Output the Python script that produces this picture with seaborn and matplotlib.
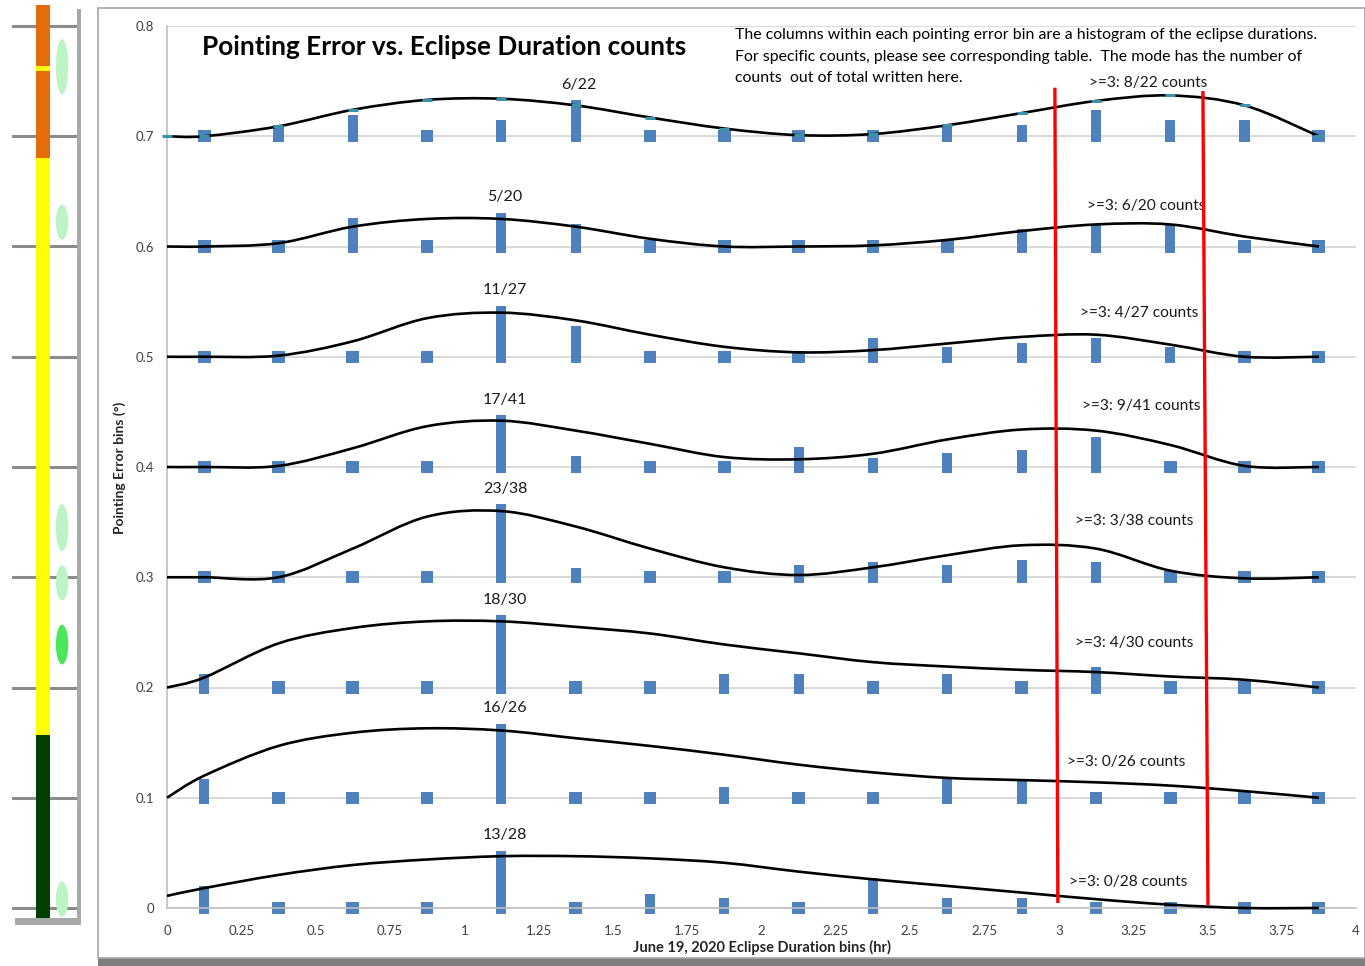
import numpy as np
import matplotlib
matplotlib.use("Agg")
import matplotlib.pyplot as plt
import seaborn as sns
from matplotlib.path import Path
from matplotlib.patches import PathPatch, Ellipse, Rectangle

# --- data ---
bin_centers = [0.125, 0.375, 0.625, 0.875, 1.125, 1.375, 1.625, 1.875,
               2.125, 2.375, 2.625, 2.875, 3.125, 3.375, 3.625, 3.875]
curve_x = [0.0] + bin_centers
error_bins = [0.7, 0.6, 0.5, 0.4, 0.3, 0.2, 0.1, 0.0]
x_ticks = [0, 0.25, 0.5, 0.75, 1, 1.25, 1.5, 1.75, 2, 2.25, 2.5, 2.75, 3, 3.25, 3.5, 3.75, 4]
y_ticks = [0, 0.1, 0.2, 0.3, 0.4, 0.5, 0.6, 0.7, 0.8]

counts_07 = [0, 1, 3, 0, 2, 6, 0, 0, 0, 0, 1, 1, 4, 2, 2, 0]
counts_06 = [0, 0, 4, 0, 5, 3, 0, 0, 0, 0, 0, 2, 3, 3, 0, 0]
counts_05 = [0, 0, 0, 0, 11, 6, 0, 0, 0, 3, 1, 2, 3, 1, 0, 0]
counts_04 = [0, 0, 0, 0, 17, 2, 0, 0, 5, 1, 3, 4, 9, 0, 0, 0]
counts_03 = [0, 0, 0, 0, 23, 1, 0, 0, 2, 3, 2, 4, 3, 0, 0, 0]
counts_02 = [2, 0, 0, 0, 18, 0, 0, 2, 2, 0, 2, 0, 4, 0, 0, 0]
counts_01 = [3, 0, 0, 0, 16, 0, 0, 1, 0, 0, 3, 3, 0, 0, 0, 0]
counts_00 = [4, 0, 0, 0, 13, 0, 2, 1, 0, 6, 1, 1, 0, 0, 0, 0]

# smoothed trend lines (one value per point in curve_x)
curve_07 = [0.700, 0.700, 0.709, 0.724, 0.733, 0.734, 0.728, 0.717, 0.707,
            0.701, 0.702, 0.710, 0.721, 0.732, 0.737, 0.728, 0.700]
curve_06 = [0.600, 0.600, 0.603, 0.618, 0.625, 0.625, 0.618, 0.607, 0.600,
            0.600, 0.601, 0.606, 0.614, 0.620, 0.620, 0.609, 0.600]
curve_05 = [0.500, 0.500, 0.501, 0.514, 0.535, 0.540, 0.533, 0.520, 0.509,
            0.504, 0.506, 0.512, 0.518, 0.520, 0.511, 0.500, 0.500]
curve_04 = [0.400, 0.400, 0.401, 0.417, 0.437, 0.442, 0.433, 0.421, 0.409,
            0.407, 0.412, 0.425, 0.434, 0.433, 0.420, 0.401, 0.400]
curve_03 = [0.300, 0.300, 0.300, 0.326, 0.355, 0.360, 0.346, 0.326, 0.309,
            0.302, 0.309, 0.320, 0.329, 0.326, 0.306, 0.299, 0.300]
curve_02 = [0.200, 0.209, 0.240, 0.254, 0.260, 0.260, 0.255, 0.249, 0.239,
            0.231, 0.223, 0.219, 0.216, 0.214, 0.210, 0.207, 0.200]
curve_01 = [0.100, 0.120, 0.147, 0.159, 0.163, 0.161, 0.154, 0.147, 0.139,
            0.130, 0.123, 0.118, 0.116, 0.114, 0.111, 0.106, 0.100]
curve_00 = [0.011, 0.018, 0.030, 0.039, 0.044, 0.047, 0.047, 0.045, 0.041,
            0.033, 0.026, 0.020, 0.014, 0.008, 0.003, 0.000, 0.000]

counts = [counts_07, counts_06, counts_05, counts_04, counts_03, counts_02, counts_01, counts_00]
curves = [curve_07, curve_06, curve_05, curve_04, curve_03, curve_02, curve_01, curve_00]

# red marker lines (hand drawn, slightly slanted)
red_lines = [((2.987, 2.997), (0.744, 0.0045)), ((3.485, 3.502), (0.741, 0.0027))]

# where the ">=3" notes sit
hi_label_pos = [(3.30, 0.748), (3.294, 0.637), (3.27, 0.540), (3.277, 0.455),
                (3.253, 0.351), (3.253, 0.240), (3.226, 0.132), (3.233, 0.024)]

note_lines = ["The columns within each pointing error bin are a histogram of the eclipse durations.",
              "For specific counts, please see corresponding table.  The mode has the number of",
              "counts  out of total written here."]

# left colour strip
strip_segments = [(0.770, 0.157, "#FFFF00"), (0.819, 0.7635, "#E46C0A"),
                  (0.7595, 0.680, "#E46C0A"), (0.157, -0.009, "#033F03")]
strip_marks = [(0.763, 0.050, "#BDF4C5"), (0.622, 0.032, "#BDF4C5"), (0.345, 0.043, "#BDF4C5"),
               (0.295, 0.032, "#BDF4C5"), (0.239, 0.036, "#4CE65A"), (0.008, 0.032, "#BDF4C5")]

BLUE = "#4F81BD"
W, H = 1365, 966


def smooth_path(xs, ys):
    '''Excel-like smoothed line as cubic Bezier segments.'''
    pts = np.column_stack([xs, ys])
    n = len(pts)
    verts = [pts[0]]
    codes = [Path.MOVETO]
    for i in range(n - 1):
        p0, p1 = pts[max(i - 1, 0)], pts[i]
        p2, p3 = pts[i + 1], pts[min(i + 2, n - 1)]
        verts += [p1 + (p2 - p0) / 6, p2 - (p3 - p1) / 6, p2]
        codes += [Path.CURVE4] * 3
    return Path(verts, codes)


sns.set_theme(style="white")
plt.rcParams['font.family'] = ['Lato', 'DejaVu Sans']

fig = plt.figure(figsize=(W / 100, H / 100), dpi=100)
fig.patch.set_facecolor("white")

# panel frames and shadows
fig.patches.append(Rectangle((98 / W, 1 - 966 / H), (W - 98) / W, 10 / H, transform=fig.transFigure,
                             facecolor="#7F7F7F", edgecolor="none", zorder=-3))
fig.patches.append(Rectangle((98 / W, 1 - 958 / H), (W - 98) / W, 950 / H, transform=fig.transFigure,
                             facecolor="white", edgecolor="#A6A6A6", lw=1.2, zorder=-2))
fig.patches.append(Rectangle((15 / W, 1 - 925 / H), 66 / W, 916 / H, transform=fig.transFigure,
                             facecolor="#A8A8A8", edgecolor="none", zorder=-3))

ax = fig.add_axes([167 / W, 1 - 908 / H, (1356 - 167) / W, (908 - 26) / H])
ax.set_facecolor("none")

for base, row, curve in zip(error_bins, counts, curves):
    row = np.array(row)
    total = row.sum()
    frac = row / total
    widths = np.where(row == 0, 0.043, 0.034)
    ax.bar(bin_centers, frac * 0.1 + 0.011, width=widths, bottom=base - 0.0055,
           color=BLUE, zorder=2, clip_on=False, linewidth=0)
    ax.add_patch(PathPatch(smooth_path(curve_x, curve), facecolor="none",
                           edgecolor="black", lw=1.9, zorder=3, clip_on=False))
    m = int(row.argmax())
    top = base + frac[m] * 0.1 + 0.0055
    ax.text(bin_centers[m] + 0.012, top + 0.014, f"{row[m]}/{total}",
            ha="center", va="center", fontsize=11.5, color="#1a1a1a", zorder=5)

for (hx, hy), row in zip(hi_label_pos, counts):
    ax.text(hx, hy, f">=3: {sum(row[12:])}/{sum(row)} counts", ha="center", va="center",
            fontsize=11.2, color="#1a1a1a", zorder=3)

# little markers on the top curve
sns.scatterplot(x=curve_x, y=curve_07, marker="_", s=45, linewidth=2.2,
                color="#3A93A8", zorder=4, ax=ax, clip_on=False)

for xs, ys in red_lines:
    ax.plot(xs, ys, color="#FF0000", lw=2.4, zorder=6, clip_on=False, solid_capstyle="butt")

ax.set_xlim(0, 4)
ax.set_ylim(0, 0.8)
ax.set_xticks(x_ticks)
ax.set_yticks(y_ticks)
ax.set_xticklabels([f"{v:g}" for v in x_ticks])
ax.set_yticklabels([f"{v:g}" for v in y_ticks])
ax.grid(axis="y", color="#D9D9D9", lw=1.4, zorder=0)
ax.set_axisbelow(True)
for s in ["top", "right"]:
    ax.spines[s].set_visible(False)
for s in ["left", "bottom"]:
    ax.spines[s].set_color("#BFBFBF")
    ax.spines[s].set_linewidth(1.2)
ax.tick_params(axis="both", colors="#BFBFBF", length=4, width=1, direction="out",
               labelcolor="#404040", labelsize=9.5)
ax.tick_params(axis="x", pad=8)
ax.tick_params(axis="y", pad=5)

fig.text(202 / W, 1 - 47 / H, "Pointing Error vs. Eclipse Duration counts",
         fontsize=18.8, fontweight="bold", ha="left", va="center", color="black")
for i, line in enumerate(note_lines):
    fig.text(735 / W, 1 - (35 + 21.5 * i) / H, line,
             fontsize=11.4, ha="left", va="center", color="black")
fig.text(120 / W, 1 - 468 / H, "Pointing Error bins (°)", rotation=90, fontsize=10,
         fontweight="bold", ha="center", va="center")
fig.text(762 / W, 1 - 947 / H, "June 19, 2020 Eclipse Duration bins (hr)", fontsize=10.5,
         fontweight="bold", ha="center", va="center")

# left colour strip
sx = fig.add_axes([12 / W, 1 - 918 / H, 65 / W, 913 / H])
sx.set_xlim(0, 1)
sx.set_ylim(-0.009, 0.819)
sx.set_facecolor("white")
for s in sx.spines.values():
    s.set_visible(False)
sx.set_xticks([])
sx.set_yticks([])
for g in y_ticks:
    sx.axhline(g, color="#8C8C8C", lw=2.2, zorder=1)
for y0, y1, c in strip_segments:
    sx.bar(0.477, y1 - y0, bottom=y0, width=0.22, color=c, zorder=2, linewidth=0)
for yc, hgt, c in strip_marks:
    sx.add_patch(Ellipse((0.77, yc), 0.19, hgt, facecolor=c, edgecolor="none", zorder=3))

fig.savefig("out.png", dpi=100)
